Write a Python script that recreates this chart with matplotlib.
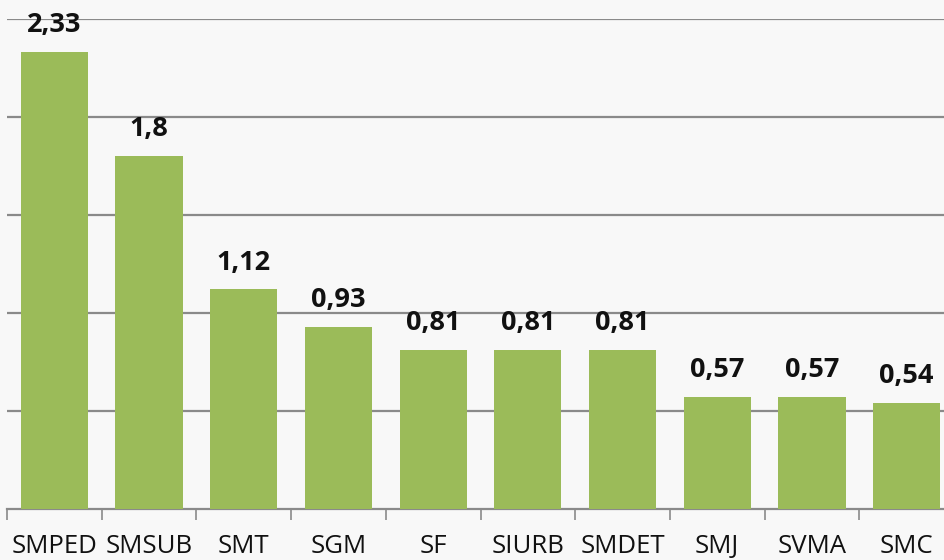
import matplotlib
matplotlib.use("Agg")
import matplotlib.pyplot as plt

categories = ["SMPED", "SMSUB", "SMT", "SGM", "SF", "SIURB", "SMDET", "SMJ", "SVMA", "SMC"]
values = [2.33, 1.8, 1.12, 0.93, 0.81, 0.81, 0.81, 0.57, 0.57, 0.54]
value_labels = ["2,33", "1,8", "1,12", "0,93", "0,81", "0,81", "0,81", "0,57", "0,57", "0,54"]

W, H = 945, 560
fig = plt.figure(figsize=(W / 100, H / 100), dpi=100)
fig.patch.set_facecolor("#f8f8f8")
ax = fig.add_axes([7 / W, (H - 509) / H, 947 / W, 490 / H])
ax.set_facecolor("#f8f8f8")

x = list(range(len(categories)))
ax.bar(x, values, width=0.71, color="#9BBB59", zorder=3)
ax.set_xlim(-0.5, len(categories) - 0.5)
ax.set_ylim(0, 2.5)
ax.set_yticks([0.5, 1.0, 1.5, 2.0, 2.5])
ax.yaxis.grid(True, color="#8a8a8a", linewidth=1.6, zorder=1)
ax.tick_params(axis="y", left=False, labelleft=False)

ax.set_xticks([i + 0.5 for i in range(-1, len(categories))], minor=False)
ax.set_xticklabels([])
ax.tick_params(axis="x", which="major", direction="out", length=8, width=1.2, color="#8a8a8a")
ax.set_xticks(x, minor=True)
ax.set_xticklabels(categories, minor=True, fontsize=18.5, family="Open Sans", color="#111111")
ax.tick_params(axis="x", which="minor", length=0, pad=18)

for s in ["top", "right", "left"]:
    ax.spines[s].set_visible(False)
ax.spines["bottom"].set_color("#8a8a8a")
ax.spines["bottom"].set_linewidth(1.6)

for xi, v, lab in zip(x, values, value_labels):
    ax.annotate(lab, (xi, v), xytext=(0, 10), textcoords="offset points",
                ha="center", va="bottom", fontsize=19.5, fontweight="bold",
                family="Open Sans", color="#111111", annotation_clip=False)

fig.savefig("out.png", dpi=100, facecolor=fig.get_facecolor())
